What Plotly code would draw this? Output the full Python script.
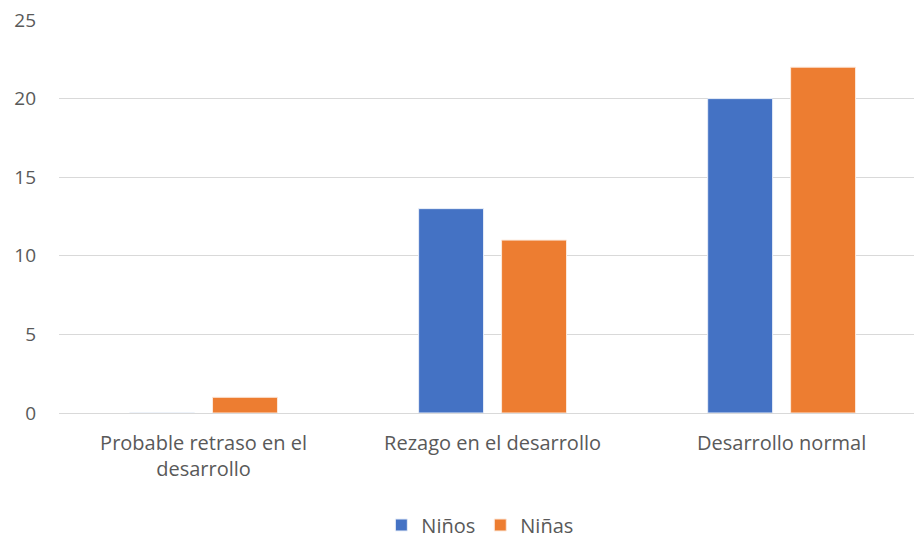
import plotly.graph_objects as go

categories = ["Probable retraso en el<br>desarrollo", "Rezago en el desarrollo", "Desarrollo normal"]
ninos = [0, 13, 20]
ninas = [1, 11, 22]
y_ticks = [0, 5, 10, 15, 20, 25]

FONT = "Open Sans"
TXT = "#595959"

fig = go.Figure()
fig.add_trace(go.Bar(name="Niños", x=categories, y=ninos,
                     marker=dict(color="#4472C4", line=dict(color="#E8EEF8", width=1))))
fig.add_trace(go.Bar(name="Niñas", x=categories, y=ninas,
                     marker=dict(color="#ED7D31", line=dict(color="#FCE9DC", width=1))))

fig.update_layout(
    width=914, height=539,
    margin=dict(l=59, r=0, t=20, b=126, autoexpand=False),
    paper_bgcolor="white", plot_bgcolor="white",
    barmode="group", bargap=0.426, bargroupgap=0.217,
    font=dict(family=FONT, size=20, color=TXT),
    showlegend=True,
    legend=dict(orientation="h", x=0.525, xanchor="center", xref="container",
                y=0.026, yanchor="middle", yref="container",
                font=dict(size=20, color=TXT), itemwidth=30, traceorder="normal"),
    xaxis=dict(range=[-0.5, 2.458], showgrid=False, showline=False, ticks="",
               ticklabelstandoff=16, tickfont=dict(size=20, color=TXT)),
    yaxis=dict(range=[0, 25], tickvals=y_ticks, showgrid=True, gridcolor="#D9D9D9",
               gridwidth=1, zeroline=True, zerolinecolor="#D9D9D9", zerolinewidth=1,
               showline=False, ticks="", ticklabelstandoff=22,
               tickfont=dict(size=19, color=TXT)),
)

fig.write_html("out.html")
